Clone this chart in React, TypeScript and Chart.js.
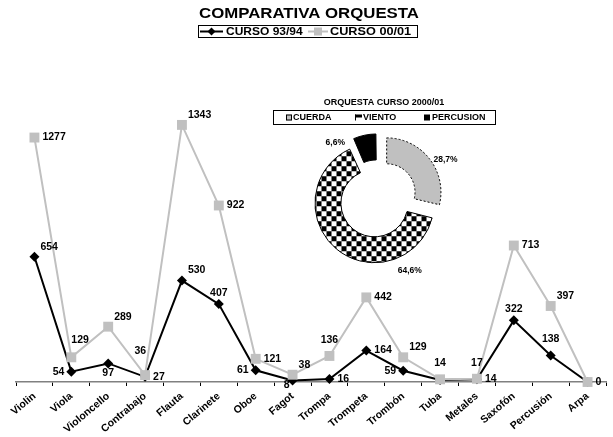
import React, { useEffect, useRef } from 'react';
import { Chart, registerables } from 'chart.js';
Chart.register(...registerables);

// ---------- data ----------
const categories = ['Violin', 'Viola', 'Violoncello', 'Contrabajo', 'Flauta', 'Clarinete', 'Oboe', 'Fagot', 'Trompa', 'Trompeta', 'Trombón', 'Tuba', 'Metales', 'Saxofón', 'Percusión', 'Arpa'];
const curso9394 = [654, 54, 97, 27, 530, 407, 61, 8, 16, 164, 59, 10, 14, 322, 138, 0];
const curso0001 = [1277, 129, 289, 36, 1343, 922, 121, 38, 136, 442, 129, 14, 17, 713, 397, 0];
const seriesNames = ['CURSO 93/94', 'CURSO 00/01'];
const chartTitle = 'COMPARATIVA ORQUESTA';
const pieTitle = 'ORQUESTA CURSO 2000/01';
const pieLabels = ['CUERDA', 'VIENTO', 'PERCUSION'];
const piePercents = [28.7, 64.6, 6.6];
const yMax = 1400;

// ---------- style ----------
const FONT = '"Liberation Sans", Arial, Helvetica, sans-serif';
const GRAY = '#C0C0C0';
// label placement codes per point (style only)
const place9394 = ['ar', 'l', 'b', 'r', 'ar', 'a', 'l', 'bl', 'r', 'r', 'l', '', 'r', 'a', 'aa', ''];
const place0001 = ['r', 'aar', 'ar', 'aal', 'ar', 'r', 'r', 'ar', 'aa', 'r', 'ar', 'aa', 'aa', 'r', 'ar', 'r'];
const PLACE: Record<string, [CanvasTextAlign, number, number]> = {
  r: ['left', 8, 0],
  l: ['right', -7, 0],
  a: ['center', 0, -11],
  aa: ['center', 0, -16],
  b: ['center', 0, 10],
  bl: ['right', -3, 5],
  ar: ['left', 6, -10],
  aar: ['left', 0, -17],
  aal: ['right', 1, -24],
};
const pieLabelAngles = [60, 156, 323];
const pieLabelDist = [78, 78, 71];

function stretchedText(ctx: CanvasRenderingContext2D, text: string, x: number, y: number, sx: number, align: CanvasTextAlign) {
  ctx.save();
  ctx.translate(x, y);
  ctx.scale(sx, 1);
  ctx.textAlign = align;
  ctx.textBaseline = 'middle';
  ctx.fillText(text, 0, 0);
  ctx.restore();
}

function makeChecker(): CanvasPattern | string {
  const c = document.createElement('canvas');
  c.width = 10; c.height = 10;
  const g = c.getContext('2d');
  if (!g) return '#000';
  g.fillStyle = '#fff';
  g.fillRect(0, 0, 10, 10);
  g.fillStyle = '#000';
  g.fillRect(0, 0, 5, 5);
  g.fillRect(5, 5, 5, 5);
  const p = g.createPattern(c, 'repeat');
  return p || '#000';
}

export default function App() {
  const mainRef = useRef<HTMLCanvasElement>(null);
  const pieRef = useRef<HTMLCanvasElement>(null);

  useEffect(() => {
    Chart.defaults.font.family = FONT;
    Chart.defaults.color = '#000';

    const labelsPlugin = {
      id: 'valueLabels',
      afterDatasetsDraw(chart: any) {
        const ctx = chart.ctx as CanvasRenderingContext2D;
        ctx.save();
        ctx.font = `bold 10.5px ${FONT}`;
        ctx.fillStyle = '#000';
        ctx.textBaseline = 'middle';
        const places = [place9394, place0001];
        chart.data.datasets.forEach((ds: any, di: number) => {
          const meta = chart.getDatasetMeta(di);
          meta.data.forEach((pt: any, i: number) => {
            const code = places[di][i];
            if (!code) return;
            const [align, dx, dy] = PLACE[code];
            ctx.textAlign = align;
            ctx.fillText(String(ds.data[i]), pt.x + dx, pt.y + dy);
          });
        });
        ctx.restore();
      },
      afterDraw(chart: any) {
        const ctx = chart.ctx as CanvasRenderingContext2D;
        ctx.save();
        ctx.fillStyle = '#000';
        ctx.font = `bold 14px ${FONT}`;
        stretchedText(ctx, chartTitle, 309, 14.5, 1.2, 'center');
        // legend box
        ctx.strokeStyle = '#000';
        ctx.lineWidth = 1;
        ctx.strokeRect(198.5, 25.5, 219, 12);
        const ly = 31.5;
        // series 1 sample
        ctx.lineWidth = 2;
        ctx.strokeStyle = '#000';
        ctx.beginPath(); ctx.moveTo(200, ly); ctx.lineTo(223, ly); ctx.stroke();
        ctx.beginPath();
        ctx.moveTo(211.5 - 4, ly); ctx.lineTo(211.5, ly - 4); ctx.lineTo(211.5 + 4, ly); ctx.lineTo(211.5, ly + 4); ctx.closePath();
        ctx.fill();
        ctx.font = `bold 10px ${FONT}`;
        stretchedText(ctx, seriesNames[0], 226, ly + 0.5, 1.2, 'left');
        // series 2 sample
        ctx.strokeStyle = GRAY;
        ctx.beginPath(); ctx.moveTo(308, ly); ctx.lineTo(328, ly); ctx.stroke();
        ctx.fillStyle = GRAY;
        ctx.fillRect(318 - 4, ly - 4, 8, 8);
        ctx.fillStyle = '#000';
        stretchedText(ctx, seriesNames[1], 330, ly + 0.5, 1.27, 'left');
        ctx.restore();
      },
    };

    const main = new Chart(mainRef.current as HTMLCanvasElement, {
      type: 'line',
      data: {
        labels: categories,
        datasets: [
          {
            label: seriesNames[0],
            data: curso9394,
            borderColor: '#000',
            backgroundColor: '#000',
            borderWidth: 2,
            pointStyle: 'rectRot',
            pointRadius: 5,
            pointBorderWidth: 0,
            pointBackgroundColor: '#000',
            tension: 0,
            clip: false,
            order: 1,
          },
          {
            label: seriesNames[1],
            data: curso0001,
            borderColor: GRAY,
            backgroundColor: GRAY,
            borderWidth: 2,
            pointStyle: 'rect',
            pointRadius: 7,
            pointBorderWidth: 0,
            pointBackgroundColor: GRAY,
            tension: 0,
            clip: false,
            order: 0,
          },
        ],
      } as any,
      options: {
        responsive: false,
        animation: false,
        events: [],
        layout: { padding: { left: 16, right: 2, top: 114, bottom: 0 } },
        plugins: { legend: { display: false }, title: { display: false }, tooltip: { enabled: false } },
        scales: {
          x: {
            offset: true,
            grid: { display: true, offset: true, drawOnChartArea: false, drawTicks: true, tickLength: 4, color: '#000', lineWidth: 1 },
            border: { display: true, color: '#808080', width: 1.5 },
            ticks: {
              color: '#000',
              font: { size: 10.5, weight: 'bold' },
              minRotation: 40,
              maxRotation: 40,
              autoSkip: false,
              padding: 4,
            },
            afterFit: (scale: any) => {
              scale.height = 55;
              scale.paddingLeft = 0;
              scale.paddingRight = 0;
            },
          },
          y: { display: false, min: 0, max: yMax },
        },
      } as any,
      plugins: [labelsPlugin],
    });

    const checker = makeChecker();
    const insetPlugin = {
      id: 'inset',
      afterDraw(chart: any) {
        const ctx = chart.ctx as CanvasRenderingContext2D;
        ctx.save();
        ctx.fillStyle = '#000';
        ctx.font = `bold 9px ${FONT}`;
        stretchedText(ctx, pieTitle, 119, 10.5, 1.0, 'center');
        ctx.strokeStyle = '#000';
        ctx.lineWidth = 1;
        ctx.strokeRect(8.5, 18.5, 222, 14);
        const ly = 25.5;
        // CUERDA icon
        ctx.fillStyle = GRAY;
        ctx.fillRect(21, ly - 3, 6, 6);
        ctx.strokeRect(21.5, ly - 2.5, 5, 5);
        // VIENTO icon
        ctx.fillStyle = '#000';
        ctx.fillRect(90, ly - 3, 7, 3);
        ctx.fillRect(90, ly - 3, 1, 6);
        // PERCUSION icon
        ctx.fillRect(159, ly - 3, 6, 6);
        ctx.font = `bold 9px ${FONT}`;
        stretchedText(ctx, pieLabels[0], 28, ly + 0.5, 1.0, 'left');
        stretchedText(ctx, pieLabels[1], 98, ly + 0.5, 1.0, 'left');
        stretchedText(ctx, pieLabels[2], 167, ly + 0.5, 1.0, 'left');
        // percentage labels
        const meta = chart.getDatasetMeta(0);
        const arc = meta.data[0];
        if (arc) {
          ctx.font = `bold 8.5px ${FONT}`;
          ctx.textAlign = 'center';
          ctx.textBaseline = 'middle';
          piePercents.forEach((v, i) => {
            const a = (pieLabelAngles[i] * Math.PI) / 180;
            const d = pieLabelDist[i];
            const txt = v.toFixed(1).replace('.', ',') + '%';
            ctx.fillText(txt, arc.x + Math.sin(a) * d, arc.y - Math.cos(a) * d);
          });
        }
        ctx.restore();
      },
    };

    const pie = new Chart(pieRef.current as HTMLCanvasElement, {
      type: 'doughnut',
      data: {
        labels: pieLabels,
        datasets: [
          {
            data: piePercents,
            backgroundColor: [GRAY, checker, '#000'],
            borderColor: '#000',
            borderWidth: 1,
            offset: [44, 22, 28],
            borderDash: (c: any) => (c.dataIndex === 0 ? [2, 2] : []),
          },
        ],
      } as any,
      options: {
        responsive: false,
        animation: false,
        events: [],
        radius: 54,
        cutout: '52%',
        layout: { padding: { left: 0, right: 9, top: 34, bottom: 20 } },
        plugins: { legend: { display: false }, title: { display: false }, tooltip: { enabled: false } },
      } as any,
      plugins: [insetPlugin],
    });

    return () => {
      main.destroy();
      pie.destroy();
    };
  }, []);

  return (
    <div style={{ position: 'fixed', left: 0, top: 0, width: 613, height: 437, background: '#fff' }}>
      <canvas ref={mainRef} width={613} height={437} style={{ position: 'absolute', left: 0, top: 0, width: 613, height: 437 }} />
      <canvas ref={pieRef} width={235} height={200} style={{ position: 'absolute', left: 265, top: 92, width: 235, height: 200 }} />
    </div>
  );
}
